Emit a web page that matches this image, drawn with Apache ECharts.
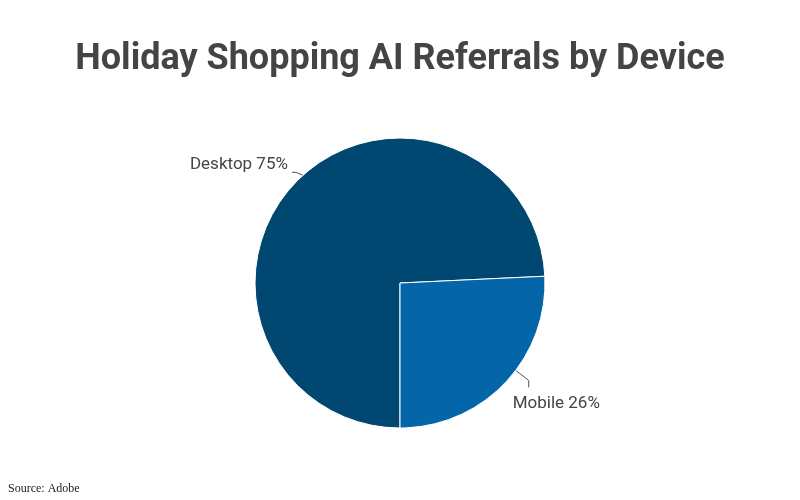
<!doctype html>
<html>
<head>
    <meta charset="UTF-8">
    <title>Holiday Shopping AI Referrals by Device</title>
    <script src="https://cdn.jsdelivr.net/npm/echarts@6/dist/echarts.min.js"></script>
</head>
<body style="margin:0;background:#fff">
<div id="main" style="width:800px;height:500px"></div>
<script type="text/javascript">
    var devices = ['Desktop', 'Mobile'];
    var shares = [75, 26];
    var sliceColors = ['#004872', '#0466a9'];

    var pieCenter = [400, 283];
    var pieRadius = 145;

    var pieData = [];
    for (var i = 0; i < devices.length; i++) {
        pieData.push({value: shares[i], name: devices[i], itemStyle: {color: sliceColors[i]}});
    }

    // nudge the leader-line anchor along the rim (degrees)
    function rimPoint(p, shiftDeg) {
        var a = Math.atan2(-(p[1] - pieCenter[1]), p[0] - pieCenter[0]) + shiftDeg * Math.PI / 180;
        return [pieCenter[0] + pieRadius * Math.cos(a), pieCenter[1] - pieRadius * Math.sin(a)];
    }

    var myChart = echarts.init(document.getElementById('main'));
    var option = {
        backgroundColor: '#fff',
        animation: false,
        title: [
            {
                text: 'Holiday Shopping AI Referrals by Device',
                left: 'center',
                top: 37,
                textStyle: {
                    fontFamily: 'Roboto',
                    fontWeight: 'bold',
                    fontSize: 36,
                    color: '#444'
                }
            },
            {
                text: 'Source: Adobe',
                left: 3,
                top: 478,
                textStyle: {
                    fontFamily: 'Liberation Serif',
                    fontWeight: 'normal',
                    fontSize: 12,
                    color: '#222'
                }
            }
        ],
        series: [
            {
                type: 'pie',
                radius: pieRadius,
                center: pieCenter,
                startAngle: 270,
                clockwise: true,
                data: pieData,
                itemStyle: {
                    borderColor: '#fff',
                    borderWidth: 1
                },
                label: {
                    formatter: '{b} {c}%',
                    fontFamily: 'Roboto',
                    fontSize: 17,
                    color: '#444'
                },
                labelLine: {
                    length: 12,
                    length2: 6,
                    lineStyle: {color: '#555', width: 1}
                },
                // labels sit above / below the end of the leader line
                labelLayout: function (params) {
                    var pts = params.labelLinePoints;
                    if (!pts) return {};
                    if (params.dataIndex === 1) {
                        var p0 = rimPoint(pts[0], 6.6);
                        var p1 = [p0[0] + 13, p0[1] + 10];
                        var end = [p1[0], p1[1] + 7];
                        return {
                            x: p1[0] - 16,
                            y: end[1] + 16,
                            align: 'left',
                            verticalAlign: 'middle',
                            labelLinePoints: [p0, p1, end]
                        };
                    }
                    var q0 = rimPoint(pts[0], -4.3);
                    var q1 = [q0[0] - 7, q0[1] - 3];
                    var endL = [q1[0] - 4, q1[1]];
                    return {
                        x: endL[0] - 4,
                        y: endL[1] - 8,
                        align: 'right',
                        verticalAlign: 'middle',
                        labelLinePoints: [q0, q1, endL]
                    };
                }
            }
        ]
    };
    myChart.setOption(option);
</script>
</body>
</html>
